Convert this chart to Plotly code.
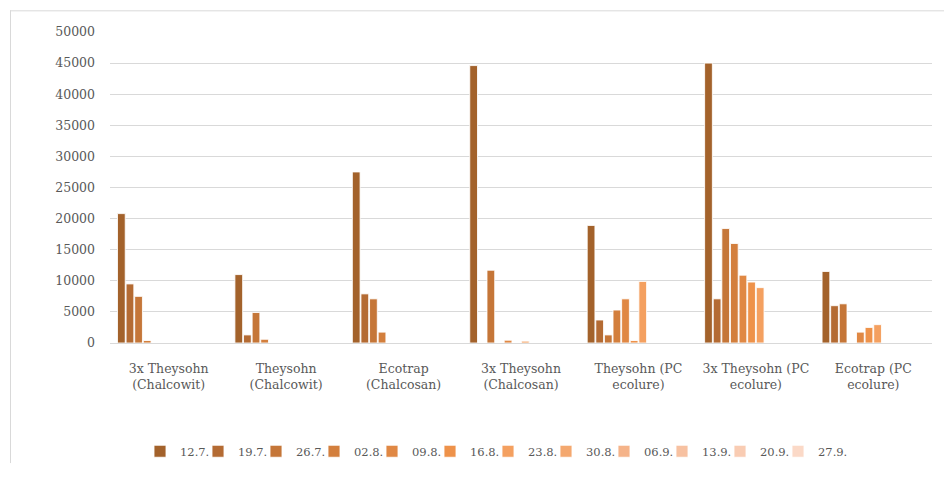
import plotly.graph_objects as go

categories = [
    "3x Theysohn<br>(Chalcowit)",
    "Theysohn<br>(Chalcowit)",
    "Ecotrap<br>(Chalcosan)",
    "3x Theysohn<br>(Chalcosan)",
    "Theysohn (PC<br>ecolure)",
    "3x Theysohn (PC<br>ecolure)",
    "Ecotrap (PC<br>ecolure)",
]

dates = ["12.7.", "19.7.", "26.7.", "02.8.", "09.8.", "16.8.", "23.8.",
         "30.8.", "06.9.", "13.9.", "20.9.", "27.9."]

v_12_7 = [20800, 11000, 27500, 44600, 18900, 45000, 11500]
v_19_7 = [9500, 1300, 7900, 0, 3700, 7100, 6000]
v_26_7 = [7500, 4900, 7100, 11700, 1300, 18400, 6300]
v_02_8 = [400, 600, 1750, 0, 5300, 16000, 0]
v_09_8 = [0, 0, 0, 450, 7100, 10900, 1750]
v_16_8 = [0, 0, 0, 0, 400, 9800, 2500]
v_23_8 = [0, 0, 0, 300, 9900, 8900, 2950]
v_30_8 = [0, 0, 0, 0, 0, 0, 0]
v_06_9 = [0, 0, 0, 0, 0, 0, 0]
v_13_9 = [0, 0, 0, 0, 0, 0, 0]
v_20_9 = [0, 0, 0, 0, 0, 0, 0]
v_27_9 = [0, 0, 0, 0, 0, 0, 0]

series = [v_12_7, v_19_7, v_26_7, v_02_8, v_09_8, v_16_8, v_23_8,
          v_30_8, v_06_9, v_13_9, v_20_9, v_27_9]

colors = ["#A3622B", "#B46B33", "#C57638", "#D37F3D", "#E08844", "#EE924A",
          "#F4A060", "#F4A86F", "#F5B389", "#F7C1A1", "#F9CCB3", "#FBD9C7"]

FONT = "DejaVu Serif"
FS = 12.5
GREY = "#595959"

fig = go.Figure()
for name, vals, col in zip(dates, series, colors):
    fig.add_trace(go.Bar(
        x=categories, y=vals, name=name,
        marker=dict(color=col, line=dict(color="rgba(255,255,255,0.85)", width=1)),
    ))

# invisible spacer entry so the last legend label is not clipped
fig.add_trace(go.Scatter(x=[None], y=[None], name=" ", mode="markers",
                         marker=dict(color="rgba(0,0,0,0)", size=1,
                                     line=dict(width=0)),
                         hoverinfo="skip"))

W, H = 944, 478
L, R, T, B = 110, 12, 32, 130
pw, ph = W - L - R, H - T - B

def px2paper_x(px):
    return (px - L) / pw

def px2paper_y(py):
    return (H - B - py) / ph

fig.update_layout(
    width=W, height=H,
    margin=dict(l=L, r=R, t=T, b=B),
    paper_bgcolor="white", plot_bgcolor="white",
    barmode="group", bargap=0.12, bargroupgap=0.1,
    font=dict(family=FONT, size=FS, color=GREY),
    showlegend=True,
    legend=dict(
        orientation="h", x=px2paper_x(140), xanchor="left",
        y=px2paper_y(458), yanchor="middle",
        font=dict(family=FONT, size=11.5, color=GREY),
        entrywidth=13, itemwidth=30, traceorder="normal",
        bgcolor="rgba(0,0,0,0)",
    ),
    xaxis=dict(
        showgrid=False, showline=True, linecolor="#D9D9D9", linewidth=1,
        ticks="", tickfont=dict(family=FONT, size=FS, color=GREY),
        ticklabelstandoff=14,
    ),
    yaxis=dict(
        range=[0, 50000], dtick=5000, showgrid=True, gridcolor="#D9D9D9",
        gridwidth=1, zeroline=False, showline=False, ticks="",
        tickformat="d", tickfont=dict(family=FONT, size=FS, color=GREY),
        ticklabelstandoff=14,
    ),
    shapes=[
        dict(type="line", xref="paper", yref="paper",
             x0=px2paper_x(10), x1=px2paper_x(944), y0=px2paper_y(10.5), y1=px2paper_y(10.5),
             line=dict(color="#D9D9D9", width=1)),
        dict(type="line", xref="paper", yref="paper",
             x0=px2paper_x(10.5), x1=px2paper_x(10.5), y0=px2paper_y(10), y1=px2paper_y(470),
             line=dict(color="#D9D9D9", width=1)),
    ],
)

fig.write_html("out.html")
